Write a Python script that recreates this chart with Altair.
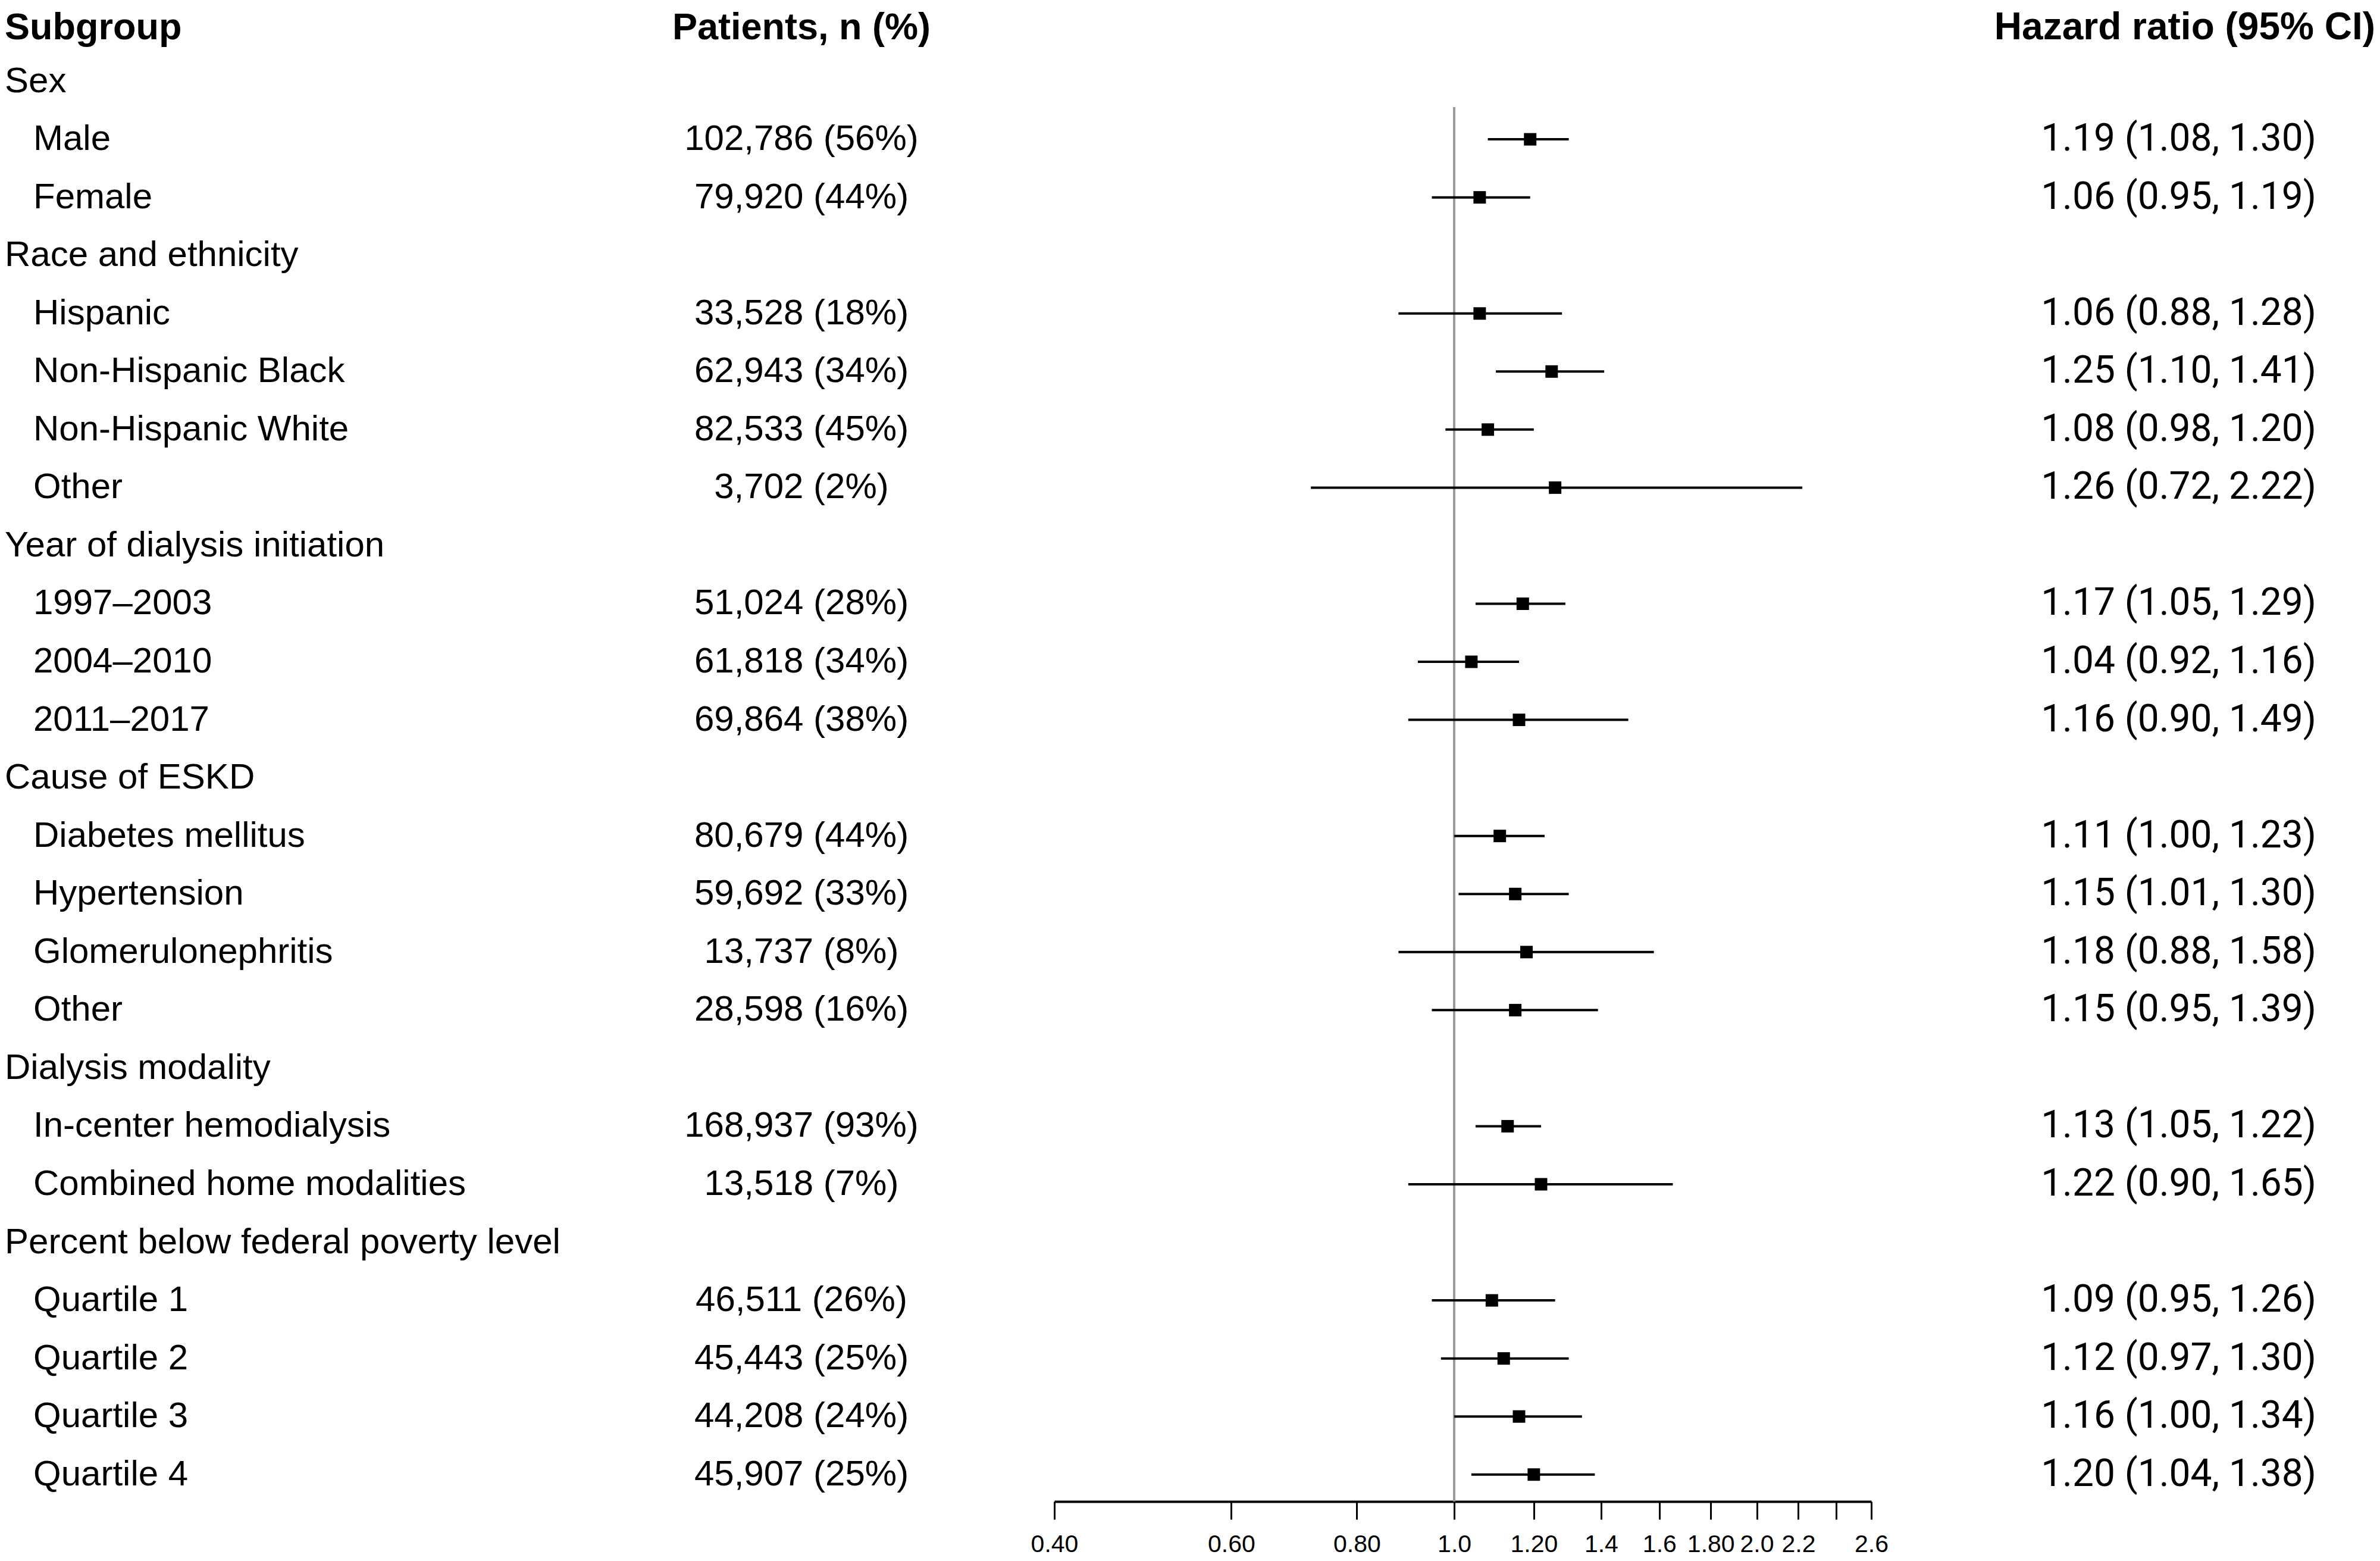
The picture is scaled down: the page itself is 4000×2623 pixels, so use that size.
import altair as alt
import pandas as pd

# ---------------- data ----------------
labels = ["Sex", "Male", "Female",
          "Race and ethnicity", "Hispanic", "Non-Hispanic Black", "Non-Hispanic White", "Other",
          "Year of dialysis initiation", "1997\u20132003", "2004\u20132010", "2011\u20132017",
          "Cause of ESKD", "Diabetes mellitus", "Hypertension", "Glomerulonephritis", "Other",
          "Dialysis modality", "In-center hemodialysis", "Combined home modalities",
          "Percent below federal poverty level", "Quartile 1", "Quartile 2", "Quartile 3", "Quartile 4"]
is_header = [True, False, False,
             True, False, False, False, False,
             True, False, False, False,
             True, False, False, False, False,
             True, False, False,
             True, False, False, False, False]
patients = ["", "102,786 (56%)", "79,920 (44%)",
            "", "33,528 (18%)", "62,943 (34%)", "82,533 (45%)", "3,702 (2%)",
            "", "51,024 (28%)", "61,818 (34%)", "69,864 (38%)",
            "", "80,679 (44%)", "59,692 (33%)", "13,737 (8%)", "28,598 (16%)",
            "", "168,937 (93%)", "13,518 (7%)",
            "", "46,511 (26%)", "45,443 (25%)", "44,208 (24%)", "45,907 (25%)"]
hr = [None, 1.19, 1.06,
      None, 1.06, 1.25, 1.08, 1.26,
      None, 1.17, 1.04, 1.16,
      None, 1.11, 1.15, 1.18, 1.15,
      None, 1.13, 1.22,
      None, 1.09, 1.12, 1.16, 1.20]
lo = [None, 1.08, 0.95,
      None, 0.88, 1.10, 0.98, 0.72,
      None, 1.05, 0.92, 0.90,
      None, 1.00, 1.01, 0.88, 0.95,
      None, 1.05, 0.90,
      None, 0.95, 0.97, 1.00, 1.04]
hi = [None, 1.30, 1.19,
      None, 1.28, 1.41, 1.20, 2.22,
      None, 1.29, 1.16, 1.49,
      None, 1.23, 1.30, 1.58, 1.39,
      None, 1.22, 1.65,
      None, 1.26, 1.30, 1.34, 1.38]
col_headers = ["Subgroup", "Patients, n (%)", "Hazard ratio (95% CI)"]
tick_values = [0.4, 0.6, 0.8, 1.0, 1.2, 1.4, 1.6, 1.8, 2.0, 2.2, 2.4, 2.6]
tick_labels = ["0.40", "0.60", "0.80", "1.0", "1.20", "1.4", "1.6", "1.80", "2.0", "2.2", "", "2.6"]

# ---------------- tables ----------------
rows = list(range(len(labels)))
df = pd.DataFrame({"row": rows, "label": labels, "header": is_header, "patients": patients})
est = pd.DataFrame([
    {"row": r, "hr": h, "lo": l, "hi": u, "hr_text": f"{h:.2f} ({l:.2f}, {u:.2f})"}
    for r, h, l, u in zip(rows, hr, lo, hi) if h is not None
])
hdr = pd.DataFrame({"row": [-1], "sub": [col_headers[0]], "pat": [col_headers[1]], "hrh": [col_headers[2]]})

# ---------------- layout ----------------
FONT = "Liberation Sans"
PAD_TOP = 6
H = 2508
Y_TOP, Y_BOTTOM = -1.246, 24.464
W_LEFT, W_MID, W_RIGHT = 1764, 1373, 847
HDR_DY = 8

yscale = alt.Scale(domain=[Y_TOP, Y_BOTTOM], reverse=True, nice=False, zero=False)
yenc = alt.Y("row:Q", scale=yscale, axis=None)

# left panel: subgroup labels and patient counts
group_txt = alt.Chart(df).transform_filter("datum.header").mark_text(
    align="left", baseline="middle", font=FONT, fontSize=60, color="black"
).encode(x=alt.value(0), y=yenc, text="label:N")
item_txt = alt.Chart(df).transform_filter("!datum.header").mark_text(
    align="left", baseline="middle", font=FONT, fontSize=60, color="black"
).encode(x=alt.value(48), y=yenc, text="label:N")
pat_txt = alt.Chart(df).transform_filter("datum.patients != ''").mark_text(
    align="center", baseline="middle", font=FONT, fontSize=60, color="black"
).encode(x=alt.value(1339), y=yenc, text="patients:N")
sub_hdr = alt.Chart(hdr).mark_text(
    align="left", baseline="middle", font=FONT, fontSize=63, fontWeight="bold", color="black", dy=HDR_DY
).encode(x=alt.value(0), y=yenc, text="sub:N")
pat_hdr = alt.Chart(hdr).mark_text(
    align="center", baseline="middle", font=FONT, fontSize=63, fontWeight="bold", color="black", dy=HDR_DY
).encode(x=alt.value(1339), y=yenc, text="pat:N")
left = alt.layer(sub_hdr, pat_hdr, group_txt, item_txt, pat_txt).properties(width=W_LEFT, height=H)

# middle panel: forest plot
label_expr = ""
for v, t in zip(tick_values, tick_labels):
    label_expr += f"abs(datum.value - {v}) < 0.01 ? '{t}' : "
label_expr += "''"

xscale = alt.Scale(type="log", domain=[0.4, 2.6], nice=False, zero=False)
xaxis = alt.Axis(values=tick_values, labelExpr=label_expr, title=None, grid=False,
                 domainColor="black", domainWidth=4, tickColor="black", tickWidth=3, tickSize=30,
                 labelFont=FONT, labelFontSize=41, labelColor="black", labelPadding=22,
                 labelOverlap=False, labelFlush=False, labelBound=False)

ref = alt.Chart(est).mark_rule(color="#9a9a9a", strokeWidth=3).encode(
    x=alt.datum(1.0, scale=xscale, axis=xaxis),
    y=alt.datum(0.45, scale=yscale, axis=None),
    y2=alt.datum(Y_BOTTOM),
)
ci = alt.Chart(est).mark_rule(color="black", strokeWidth=4).encode(
    x=alt.X("lo:Q", scale=xscale, axis=xaxis), x2="hi:Q", y=yenc
)
pts = alt.Chart(est).mark_square(color="black", filled=True, opacity=1, size=440).encode(
    x=alt.X("hr:Q", scale=xscale, axis=xaxis), y=yenc
)
mid = alt.layer(ref, ci, pts).properties(width=W_MID, height=H)

# right panel: HR (95% CI) text
hr_txt = alt.Chart(est).mark_text(
    align="right", baseline="middle", font="Roboto", fontSize=64, color="black"
).encode(x=alt.value(748), y=yenc, text="hr_text:N")
hr_hdr = alt.Chart(hdr).mark_text(
    align="right", baseline="middle", font=FONT, fontSize=64, fontWeight="bold", color="black", dy=HDR_DY
).encode(x=alt.value(W_RIGHT), y=yenc, text="hrh:N")
right = alt.layer(hr_hdr, hr_txt).properties(width=W_RIGHT, height=H)

chart = alt.hconcat(left, mid, right, spacing=0, bounds="flush").properties(
    padding={"top": PAD_TOP, "left": 0, "right": 0, "bottom": 0}, background="white"
).configure_view(stroke=None)

chart.save("out.html", embed_options={"renderer": "svg", "actions": False})
